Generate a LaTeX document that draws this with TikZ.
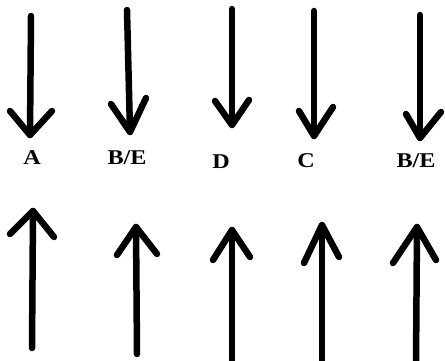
\documentclass[tikz,border=0pt]{standalone}
\usepackage{fontspec}
\setmainfont{Liberation Serif}
\begin{document}
\begin{tikzpicture}[x=1pt,y=-1pt,
  stroke/.style={line width=6.5pt,line cap=round,line join=round,black},
  lbl/.style={font=\bfseries\fontsize{21}{21}\selectfont,xscale=1.15,inner sep=0pt,anchor=center}]
\useasboundingbox (0,0) rectangle (445,361);
% labels
\node[lbl] (la) at (32,158) {A};
\node[lbl] (lb1) at (127,158) {B/E};
\node[lbl] (ld) at (221,162) {D};
\node[lbl] (lc) at (306,161) {C};
\node[lbl] (lb2) at (416,161) {B/E};
% down arrows: start, tip, left arm, right arm
\foreach \n/\sx/\sy/\tx/\ty/\lx/\ly/\rx/\ry in {
  1/31/16/30/135/10/111/52/111,
  2/127/10/130/132/111/104/146/98,
  3/232/9/232/125/215/101/249/100,
  4/314/11/314/136/299/111/333/107,
  5/420/15/420/138/406/114/441/112}{
  \coordinate (ds\n) at (\sx,\sy);
  \coordinate (dt\n) at (\tx,\ty);
  \coordinate (dl\n) at (\lx,\ly);
  \coordinate (dr\n) at (\rx,\ry);
  \draw[stroke] (ds\n) -- (dt\n);
  \draw[stroke] (dl\n) -- (dt\n) -- (dr\n);
}
% up arrows: bottom, tip, left arm, right arm
\foreach \n/\sx/\sy/\tx/\ty/\lx/\ly/\rx/\ry in {
  1/32/348/33/211/10/234/54/237,
  2/137/354/136/227/117/255/157/254,
  3/232/366/232/230/213/260/250/257,
  4/322/366/322/225/304/263/339/257,
  5/416/366/417/227/393/263/436/260}{
  \coordinate (us\n) at (\sx,\sy);
  \coordinate (ut\n) at (\tx,\ty);
  \coordinate (ul\n) at (\lx,\ly);
  \coordinate (ur\n) at (\rx,\ry);
  \draw[stroke] (us\n) -- (ut\n);
  \draw[stroke] (ul\n) -- (ut\n) -- (ur\n);
}
\end{tikzpicture}
\end{document}
